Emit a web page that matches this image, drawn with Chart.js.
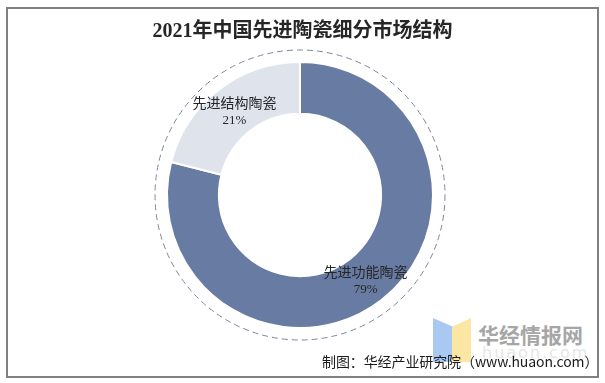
<!DOCTYPE html>
<html>
<head>
<meta charset="utf-8">
<script src="https://cdn.jsdelivr.net/npm/chart.js@4.4.0/dist/chart.umd.min.js"></script>
<style>
  html, body { margin: 0; padding: 0; background: #fff; }
  #wrap { position: relative; width: 605px; height: 383px; overflow: hidden; }
  #c { position: absolute; left: 0; top: 0; }
  #frame { position: absolute; left: 6px; top: 7px; width: 589px; height: 367px; border: 2px solid #808080; }
  #title { position: absolute; left: 0; width: 605px; top: 17px; text-align: center;
    font-family: "Liberation Serif", "Noto Sans CJK SC", serif; font-weight: 700; font-size: 20px; color: #262626; line-height: 26px; }
  #footer { position: absolute; left: 322px; top: 352px; font-family: "Noto Sans CJK SC", sans-serif;
    font-size: 14px; color: #1a1a1a; line-height: 18px; white-space: nowrap; letter-spacing: -0.1px; }
  #wm { position: absolute; left: 478px; top: 321px; font-family: "Noto Sans CJK SC", sans-serif; font-weight: 700;
    font-size: 21px; color: #a6a6a6; line-height: 26px; white-space: nowrap; }
  #wm2 { position: absolute; left: 482px; top: 343px; font-family: "DejaVu Sans", sans-serif;
    font-size: 16px; color: #e6e6e6; line-height: 20px; letter-spacing: 2px; white-space: nowrap; }
  #ib { position: absolute; left: 433px; top: 318px; width: 20px; height: 44px; background: #a9c9f2;
    clip-path: polygon(0 0, 100% 20%, 100% 100%, 0 100%); }
  #iy { position: absolute; left: 452px; top: 318px; width: 19px; height: 44px; background: #fbe7a3;
    clip-path: polygon(0 20%, 100% 0, 100% 100%, 0 100%); }
</style>
</head>
<body>
<div id="wrap">
  <div id="ib"></div><div id="iy"></div>
  <div id="wm">华经情报网</div>
  <div id="wm2">huaon.com</div>
  <canvas id="c" width="605" height="383"></canvas>
  <div id="title">2021年中国先进陶瓷细分市场结构</div>
  <div id="footer">制图：华经产业研究院（www.huaon.com）</div>
  <div id="frame"></div>
</div>
<script>
const categories = ["先进功能陶瓷", "先进结构陶瓷"];
const shares = [79, 21];
const sliceColors = ["#677ba3", "#dfe3ec"];

const ringDeco = {
  id: 'ringDeco',
  afterDatasetsDraw(chart) {
    const ctx = chart.ctx;
    const meta = chart.getDatasetMeta(0);
    const a0 = meta.data[0];
    ctx.save();
    ctx.beginPath();
    ctx.setLineDash([6, 4]);
    ctx.strokeStyle = '#7c869c';
    ctx.lineWidth = 1;
    ctx.arc(a0.x, a0.y, a0.outerRadius + 12, 0, Math.PI * 2);
    ctx.stroke();
    ctx.setLineDash([]);
    ctx.fillStyle = '#262626';
    ctx.textAlign = 'center';
    ctx.textBaseline = 'middle';
    const total = shares.reduce((s, v) => s + v, 0);
    meta.data.forEach((arc, i) => {
      const p = arc.tooltipPosition();
      ctx.font = '14px "Noto Sans CJK SC", sans-serif';
      ctx.fillText(categories[i], p.x, p.y - 8);
      ctx.font = '13px "Liberation Serif", "DejaVu Serif", serif';
      ctx.fillText(Math.round(shares[i] / total * 100) + '%', p.x, p.y + 10);
    });
    ctx.restore();
  }
};

new Chart(document.getElementById('c'), {
  type: 'doughnut',
  data: {
    labels: categories,
    datasets: [{
      data: shares,
      backgroundColor: sliceColors,
      borderColor: '#ffffff',
      borderWidth: 2,
      hoverOffset: 0
    }]
  },
  options: {
    responsive: false,
    animation: false,
    cutout: '61%',
    layout: { padding: { left: 166, right: 171, top: 61, bottom: 54 } },
    plugins: { legend: { display: false }, tooltip: { enabled: false }, title: { display: false } }
  },
  plugins: [ringDeco]
});
</script>
</body>
</html>
